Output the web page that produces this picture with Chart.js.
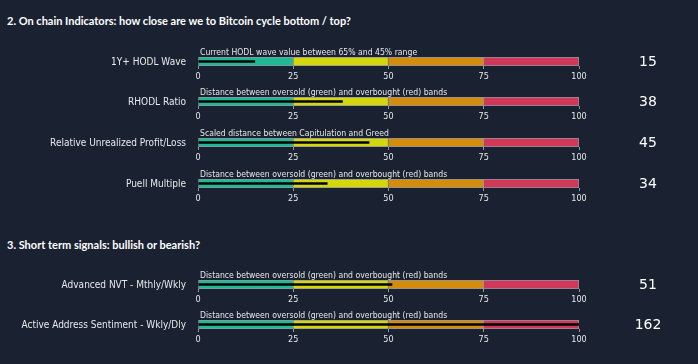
<!DOCTYPE html>
<html>
<head>
  <title>On chain Indicators</title>
  <script src="https://cdn.jsdelivr.net/npm/chart.js"></script>
  <style>
    body { margin: 0; background: #1a2232; width: 698px; height: 364px; overflow: hidden; position: relative; }
    .section { position: absolute; left: 7px; color: #ffffff; font: bold 11px Lato, sans-serif; }
    canvas { position: absolute; left: 0; }
  </style>
</head>
<body>
  <div class="section" style="top:14px">2. On chain Indicators: how close are we to Bitcoin cycle bottom / top?</div>
  <div class="section" style="top:238px">3. Short term signals: bullish or bearish?</div>

  <script>
    // indicator rows
    const labels = ['1Y+ HODL Wave', 'RHODL Ratio', 'Relative Unrealized Profit/Loss', 'Puell Multiple',
                    'Advanced NVT - Mthly/Wkly', 'Active Address Sentiment - Wkly/Dly'];
    const subtitles = [
      'Current HODL wave value between 65% and 45% range',
      'Distance between oversold (green) and overbought (red) bands',
      'Scaled distance between Capitulation and Greed',
      'Distance between oversold (green) and overbought (red) bands',
      'Distance between oversold (green) and overbought (red) bands',
      'Distance between oversold (green) and overbought (red) bands'
    ];
    const values = [15, 38, 45, 34, 51, 162];
    // gauge bands and tick labels
    const bandEdges = [0, 25, 50, 75, 100];
    const bandColors = ['#20b996', '#d6d60c', '#d48c0c', '#d03858'];
    const tickValues = [0, 25, 50, 75, 100];

    const barTops = [57, 97, 138, 179, 280, 320];
    const font = '"DejaVu Sans Condensed", "DejaVu Sans"';

    // row label on the left, subtitle above the bar, value on the right
    const textPlugin = {
      id: 'rowText',
      afterDraw(chart, args, opts) {
        const ctx = chart.ctx;
        const a = chart.chartArea;
        const mid = (a.top + a.bottom) / 2;
        ctx.save();
        ctx.fillStyle = '#e8e8e8';
        ctx.font = '10px ' + font;
        ctx.textAlign = 'right';
        ctx.textBaseline = 'middle';
        ctx.fillText(opts.label, a.left - 12, mid + 1);
        ctx.font = '8.6px ' + font;
        ctx.textAlign = 'left';
        ctx.textBaseline = 'alphabetic';
        ctx.fillText(opts.subtitle, a.left + 2, a.top - 2);
        ctx.fillStyle = '#ffffff';
        ctx.font = '14px "DejaVu Sans"';
        ctx.textAlign = 'center';
        ctx.textBaseline = 'middle';
        ctx.fillText(String(opts.value), 648, mid + 1);
        ctx.restore();
      }
    };

    labels.forEach((label, i) => {
      const canvas = document.createElement('canvas');
      canvas.style.top = (barTops[i] - 14) + 'px';
      canvas.width = 698;
      canvas.height = 40;
      canvas.style.width = '698px';
      canvas.style.height = '40px';
      document.body.appendChild(canvas);

      const datasets = bandColors.map((c, k) => ({
        data: [[bandEdges[k], bandEdges[k + 1]]],
        backgroundColor: c,
        borderColor: '#8e96a3',
        borderWidth: { top: 1, bottom: 1, left: k === 0 ? 1 : 0, right: 1 },
        borderSkipped: false,
        barPercentage: 1,
        categoryPercentage: 1,
        grouped: false,
        order: 2
      }));
      datasets.push({
        data: [values[i]],
        backgroundColor: '#000000',
        barPercentage: 0.3,
        categoryPercentage: 1,
        grouped: false,
        order: 0
      });

      new Chart(canvas.getContext('2d'), {
        type: 'bar',
        data: { labels: [label], datasets: datasets },
        plugins: [textPlugin],
        options: {
          responsive: false,
          animation: false,
          indexAxis: 'y',
          layout: { padding: { top: 14, right: 119, bottom: 0, left: 198 } },
          plugins: {
            legend: { display: false },
            tooltip: { enabled: false },
            rowText: { label: label, subtitle: subtitles[i], value: values[i] }
          },
          scales: {
            x: {
              min: 0,
              max: 100,
              afterBuildTicks: s => { s.ticks = tickValues.map(v => ({ value: v })); },
              grid: { drawOnChartArea: false, drawTicks: true, tickLength: 3, color: '#8e96a3' },
              border: { display: false },
              ticks: { color: '#e8e8e8', font: { family: 'DejaVu Sans Condensed', size: 9 }, padding: 2, maxRotation: 0 },
              afterFit: s => { s.height = 17; }
            },
            y: { display: false }
          }
        }
      });
    });
  </script>
</body>
</html>
